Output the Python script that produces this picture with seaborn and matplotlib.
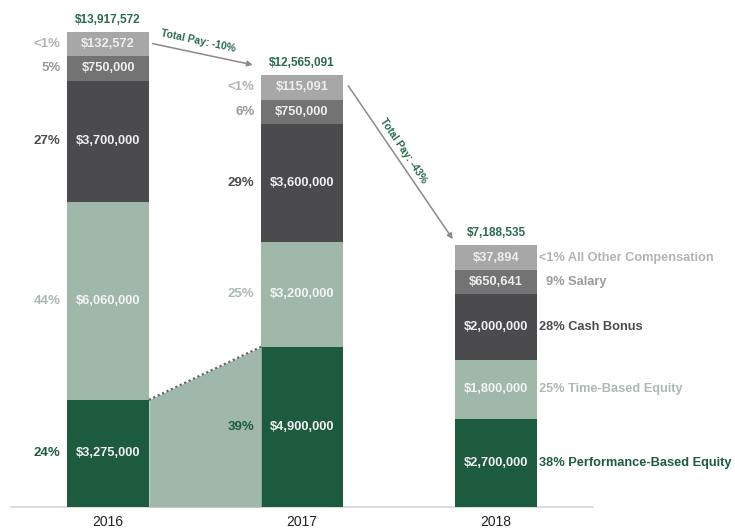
import numpy as np
import matplotlib
matplotlib.use("Agg")
import matplotlib.pyplot as plt
import seaborn as sns

# ---------------- data ----------------
years = ["2016", "2017", "2018"]
components = ["Performance-Based Equity", "Time-Based Equity", "Cash Bonus",
              "Salary", "All Other Compensation"]
perf_equity = [3275000, 4900000, 2700000]
time_equity = [6060000, 3200000, 1800000]
cash_bonus = [3700000, 3600000, 2000000]
salary = [750000, 750000, 650641]
other_comp = [132572, 115091, 37894]
totals = [13917572, 12565091, 7188535]
pct_2016 = ["24%", "44%", "27%", "5%", "<1%"]
pct_2017 = ["39%", "25%", "29%", "6%", "<1%"]
pct_2018 = ["38%", "25%", "28%", "9%", "<1%"]
change_labels = ["Total Pay: -10%", "Total Pay: -43%"]

# ---------------- style ----------------
sns.set_theme(style="white")
FONT = ["Liberation Sans Narrow", "Liberation Sans", "DejaVu Sans"]
plt.rcParams["font.family"] = FONT

seg_colors = ["#1d5b3f", "#a0b8aa", "#4b4b4d", "#737373", "#a7a7a7"]
pct_colors = ["#1d5b3f", "#a9bbb0", "#4b4b4d", "#9a9a9a", "#b4b4b4"]
val_colors = ["#f2f2f2", "#f4f4f4", "#f0f0f0", "#eeeeee", "#eeeeee"]
green_txt = "#2a6a4c"
bar_w = 0.42
min_disp = 0.75  # minimum displayed segment height (millions)

values = np.array([perf_equity, time_equity, cash_bonus, salary, other_comp], dtype=float)
disp = np.maximum(values / 1e6, min_disp)
cum = np.cumsum(disp, axis=0)
bottoms = cum - disp

fig = plt.figure(figsize=(7.35, 5.31), dpi=100)
ax = fig.add_axes([0, 0, 1, 1])

# stacked bars: draw cumulative heights from top layer down
for i in range(len(components) - 1, -1, -1):
    sns.barplot(x=years, y=cum[i], color=seg_colors[i], width=bar_w,
                saturation=1, errorbar=None, ax=ax, linewidth=0)

# shaded connector between 2016 and 2017 performance equity
xl, xr = 0 + bar_w / 2, 1 - bar_w / 2
ax.fill_between([xl, xr], [0, 0], [disp[0][0], disp[0][1]],
                color=seg_colors[1], linewidth=0, zorder=1)
ax.plot([xl, xr], [disp[0][0], disp[0][1]], color="#666666",
        linestyle=(0, (1, 1.2)), lw=1.6, zorder=3)

# baseline
ax.plot([-0.5, 2.5], [0, 0], color="#d4d4d4", lw=1.2, zorder=0)

# value labels inside bars
for j in range(3):
    for i in range(len(components)):
        yc = bottoms[i][j] + disp[i][j] / 2
        ax.text(j, yc, f"${values[i][j]:,.0f}", ha="center", va="center",
                fontsize=9.3, fontweight="bold", color=val_colors[i], zorder=5)

# percentage labels
for j, pcts in [(0, pct_2016), (1, pct_2017)]:
    for i in range(len(components)):
        yc = bottoms[i][j] + disp[i][j] / 2
        ax.text(j - bar_w / 2 - 0.035, yc, pcts[i], ha="right", va="center",
                fontsize=9.5, fontweight="bold", color=pct_colors[i])
for i in range(len(components)):
    yc = bottoms[i][2] + disp[i][2] / 2
    lab = pct_2018[i] + " " + components[i]
    if len(pct_2018[i]) == 2:
        lab = "  " + lab
    ax.text(2 + bar_w / 2 + 0.012, yc, lab, ha="left", va="center",
            fontsize=9.2, fontweight="bold", color=pct_colors[i])

# totals
for j in range(3):
    ax.text(j, cum[-1][j] + 0.18, f"${totals[j]:,.0f}", ha="center", va="bottom",
            fontsize=8.5, fontweight="bold", color=green_txt)

# year labels
for j in range(3):
    ax.text(j, -0.45, years[j], ha="center", va="center", fontsize=10,
            color="#222222")

# change arrows
arrow_kw = dict(arrowstyle="-|>", color="#8a8a8a", lw=1.1, mutation_scale=8)
ax.annotate("", xy=(1 - bar_w / 2 - 0.03, cum[-1][1] + 0.3),
            xytext=(0 + bar_w / 2 + 0.005, cum[-1][0] - 0.35), arrowprops=arrow_kw)
ax.text(0.465, cum[-1][0] - 0.28, change_labels[0], rotation=-12,
        ha="center", va="center", fontsize=7.5, fontweight="bold", color=green_txt)
ax.annotate("", xy=(2 - bar_w / 2 - 0.005, cum[-1][2] + 0.12),
            xytext=(1 + bar_w / 2 + 0.02, cum[-1][1] - 0.25), arrowprops=arrow_kw)
ax.text(1.52, 10.9, change_labels[1], rotation=-56,
        ha="center", va="center", fontsize=7.5, fontweight="bold", color=green_txt)

# axes mapping to the canvas
ax.set_xlim(-0.557, 3.232)
ax.set_ylim(-0.734, 15.50)
ax.set_xlabel("")
ax.set_ylabel("")
ax.axis("off")

fig.savefig("out.png", dpi=100)
